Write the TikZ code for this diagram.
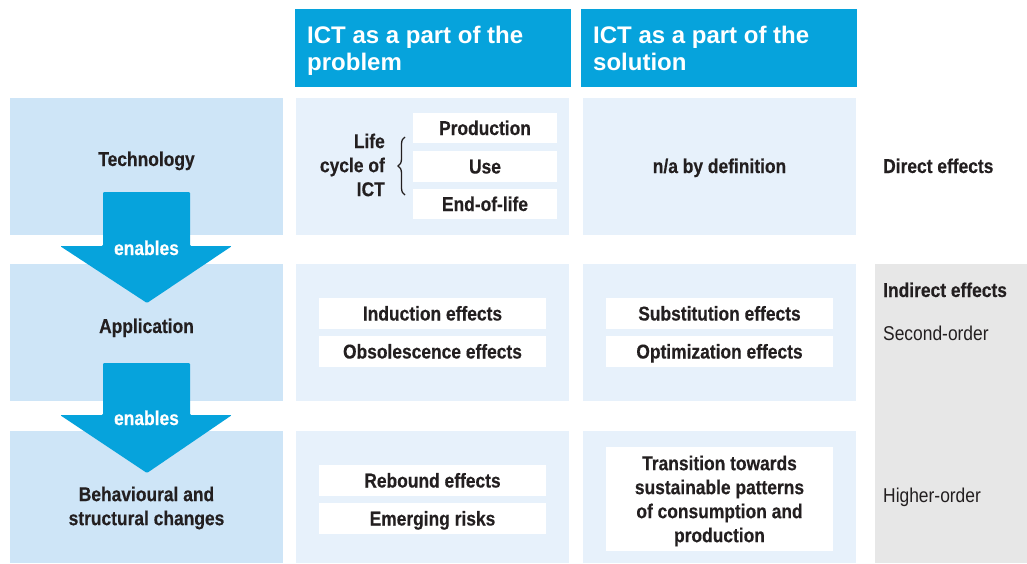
\documentclass[tikz,border=0pt]{standalone}
\usepackage{fontspec}
\setmainfont{Liberation Sans}
\newfontfamily\cond[FakeStretch=0.87, BoldFeatures={FakeBold=0.35}]{Liberation Sans}
\usetikzlibrary{decorations.pathreplacing}
\definecolor{hdrblue}{HTML}{06A3DC}
\definecolor{leftbg}{HTML}{CEE5F7}
\definecolor{cellbg}{HTML}{E7F1FB}
\definecolor{graybg}{HTML}{E7E7E7}
\definecolor{textc}{HTML}{231F20}
\tikzset{
  hdr/.style={font=\bfseries\fontsize{24}{27}\selectfont, text=white, align=left, inner sep=0pt, anchor=north west},
  lbl/.style={font=\cond\bfseries\fontsize{20}{24}\selectfont, text=textc, inner sep=0pt, align=center},
  reg/.style={font=\cond\fontsize{20}{24}\selectfont, text=textc, inner sep=0pt},
  wbox/.style={lbl, fill=white, text height=14pt, text depth=0pt},
  bigarrow/.style={fill=hdrblue, rounded corners=1.2pt},
}
\begin{document}
\begin{tikzpicture}[x=1pt,y=-1pt]
\useasboundingbox (0,0) rectangle (1027,563);
% headers
\fill[hdrblue] (295,9) rectangle (571,87);
\fill[hdrblue] (581,9) rectangle (857,87);
\node[hdr] (h1) at (307,26) {ICT as a part of the\\problem};
\node[hdr] (h2) at (593,26) {ICT as a part of the\\solution};
% left column
\fill[leftbg] (10,98) rectangle (283,235);
\fill[leftbg] (10,264) rectangle (283,401);
\fill[leftbg] (10,431) rectangle (283,563);
% middle and right cells
\fill[cellbg] (296,98) rectangle (569,235);
\fill[cellbg] (296,264) rectangle (569,401);
\fill[cellbg] (296,431) rectangle (569,563);
\fill[cellbg] (583,98) rectangle (856,235);
\fill[cellbg] (583,264) rectangle (856,401);
\fill[cellbg] (583,431) rectangle (856,563);
% gray column
\fill[graybg] (875,264) rectangle (1027,563);
% arrows
\fill[bigarrow] (103,192) -- (190,192) -- (190,246) -- (232,246) -- (147,303) -- (60,246) -- (103,246) -- cycle;
\fill[bigarrow] (103,363) -- (190,363) -- (190,415) -- (232,415) -- (147,473) -- (60,415) -- (103,415) -- cycle;
\node[lbl, text=white, anchor=base] (en1) at (146.5,255) {enables};
\node[lbl, text=white, anchor=base] (en2) at (146.5,425) {enables};
% left labels
\node[lbl, anchor=base] (tech) at (146.5,166) {Technology};
\node[lbl, anchor=base] (app) at (146.5,333) {Application};
\node[lbl] (beh) at (146.5,508) {Behavioural and\\structural changes};
% life cycle
\node[lbl, align=right, anchor=east] (lc) at (385,165) {Life\\cycle of\\ICT};
\draw[textc, line width=1.3pt, decorate, decoration={brace, amplitude=7pt}] (405,195) -- (405,137);
\node[wbox, minimum width=144pt, minimum height=30pt] (prod) at (485,128) {Production};
\node[wbox, minimum width=144pt, minimum height=31pt] (use) at (485,166.5) {Use};
\node[wbox, minimum width=144pt, minimum height=30pt] (eol) at (485,204) {End-of-life};
% middle rows
\node[wbox, minimum width=227pt, minimum height=31pt] (ind) at (432.5,313.5) {Induction effects};
\node[wbox, minimum width=227pt, minimum height=31pt] (obs) at (432.5,351.5) {Obsolescence effects};
\node[wbox, minimum width=227pt, minimum height=31pt] (reb) at (432.5,480.5) {Rebound effects};
\node[wbox, minimum width=227pt, minimum height=31pt] (emr) at (432.5,518.5) {Emerging risks};
% right column
\node[lbl, anchor=base] (na) at (719.5,173) {n/a by definition};
\node[wbox, minimum width=227pt, minimum height=31pt] (sub) at (719.5,313.5) {Substitution effects};
\node[wbox, minimum width=227pt, minimum height=31pt] (opt) at (719.5,351.5) {Optimization effects};
\fill[white] (606,447) rectangle (833,551);
\node[lbl] (trans) at (719.5,501) {Transition towards\\sustainable patterns\\of consumption and\\production};
% effect labels
\node[lbl, anchor=base west] (dir) at (883,173) {Direct effects};
\node[lbl, anchor=base west] (indir) at (883,297) {Indirect effects};
\node[reg, anchor=base west] (second) at (883,340) {Second-order};
\node[reg, anchor=base west] (higher) at (883,502) {Higher-order};
\end{tikzpicture}
\end{document}
